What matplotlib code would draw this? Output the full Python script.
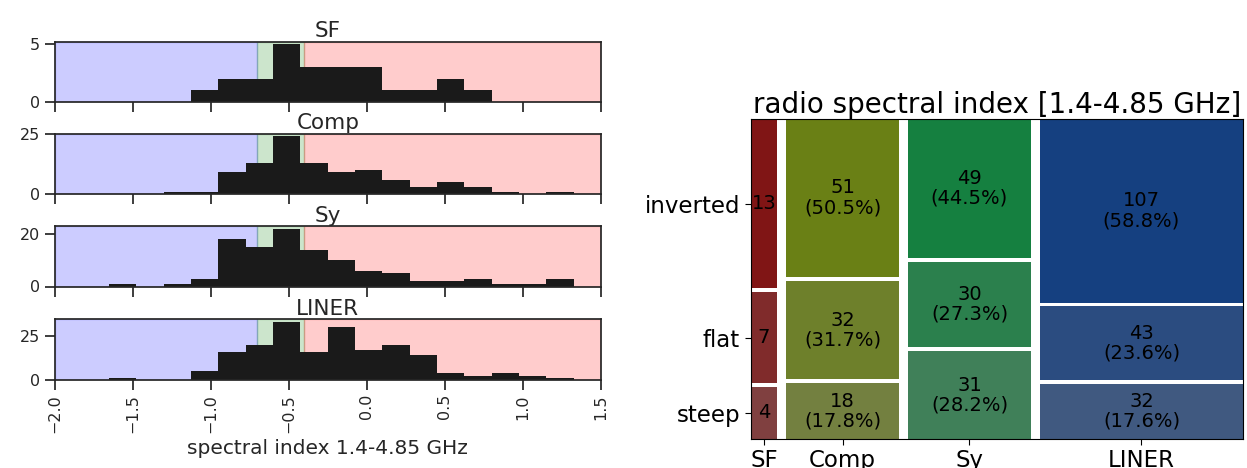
import numpy as np
import matplotlib
matplotlib.use("Agg")
import matplotlib.pyplot as plt
from matplotlib.colors import hsv_to_rgb
from matplotlib.patches import Rectangle

# histogram bins of the spectral index (1.4-4.85 GHz)
bin_edges = np.linspace(-2.0, 1.5, 21)
hist_names = ["SF", "Comp", "Sy", "LINER"]
sf_counts = [0, 0, 0, 0, 0, 1, 2, 2, 5, 3, 3, 3, 1, 1, 2, 1, 0, 0, 0, 0]
comp_counts = [0, 0, 0, 0, 1, 1, 9, 13, 24, 13, 9, 10, 6, 3, 5, 3, 1, 0, 1, 0]
sy_counts = [0, 0, 1, 0, 1, 3, 18, 15, 22, 14, 10, 6, 5, 2, 2, 3, 1, 1, 3, 0]
liner_counts = [0, 0, 1, 0, 0, 5, 16, 20, 33, 16, 30, 17, 20, 14, 4, 2, 4, 2, 1, 0]
hist_yticks = [[0, 5], [0, 25], [0, 20], [0, 25]]
hist_xticks = [-2.0, -1.5, -1.0, -0.5, 0.0, 0.5, 1.0, 1.5]

# spectral classes: steep < -0.7 < flat < -0.4 < inverted
steep_limit = -0.7
flat_limit = -0.4

# mosaic counts (rows: steep, flat, inverted)
mosaic_classes = ["SF", "Comp", "Sy", "LINER"]
mosaic_rows = ["steep", "flat", "inverted"]
sf_mosaic = [4, 7, 13]
comp_mosaic = [18, 32, 51]
sy_mosaic = [31, 30, 49]
liner_mosaic = [32, 43, 107]

TXT = "#262626"
plt.rcParams["font.family"] = ["DejaVu Sans"]

fig = plt.figure(figsize=(12.47, 4.68), dpi=100)

# ---- left: histograms ----
all_counts = [sf_counts, comp_counts, sy_counts, liner_counts]
left, width = 54.5 / 1247, 546.5 / 1247
h_ax = 60.5 / 468
tops = [41.5, 133.5, 226, 319]
for i, (name, counts) in enumerate(zip(hist_names, all_counts)):
    ax = fig.add_axes([left, 1 - tops[i] / 468 - h_ax, width, h_ax])
    ax.axvspan(-2.0, steep_limit, color="b", alpha=0.2, lw=1)
    ax.axvspan(steep_limit, flat_limit, color="g", alpha=0.2, lw=1)
    ax.axvspan(flat_limit, 1.5, color="r", alpha=0.2, lw=1)
    ax.bar(bin_edges[:-1], counts, width=np.diff(bin_edges), align="edge",
           color="0.1", linewidth=0)
    ax.set_xlim(-2.0, 1.5)
    ax.set_yticks(hist_yticks[i])
    ax.set_xticks(hist_xticks)
    ax.set_title(name, fontsize=15.5, color=TXT, pad=3)
    ax.tick_params(direction="out", length=7, width=1.25, colors=TXT,
                   labelsize=11.5)
    for s in ax.spines.values():
        s.set_color(TXT)
        s.set_linewidth(1.25)
    if i < 3:
        ax.tick_params(labelbottom=False)
    else:
        ax.tick_params(axis="x", labelrotation=90)
        ax.set_xlabel("spectral index 1.4-4.85 GHz", fontsize=14.5, color=TXT)

# ---- right: mosaic ----
mx = fig.add_axes([750.5 / 1247, 1 - 439 / 468, 492.5 / 1247, 320 / 468])
mosaic = [sf_mosaic, comp_mosaic, sy_mosaic, liner_mosaic]
totals = np.array([sum(m) for m in mosaic], dtype=float)
gx, gy = 0.0184, 0.012
hues = np.linspace(0.0, 1.0, len(mosaic_classes) + 2)[:-2]
sats = np.linspace(0.5, 1.0, len(mosaic_rows) + 1)[:-1]

col_w = (1 - gx * (len(mosaic) - 1)) * totals / totals.sum()
x0 = 0.0
xcenters = []
ycenters = []
for ci, col in enumerate(mosaic):
    col = np.array(col, dtype=float)
    row_h = (1 - gy * (len(col) - 1)) * col / col.sum()
    y0 = 0.0
    for ri, c in enumerate(col):
        color = hsv_to_rgb((hues[ci], sats[ri], 0.5))
        mx.add_patch(Rectangle((x0, y0), col_w[ci], row_h[ri], color=color, lw=0))
        cx, cy = x0 + col_w[ci] / 2, y0 + row_h[ri] / 2
        if ci == 0:
            lab = "%d" % c
            ycenters.append(cy)
        else:
            lab = "%d\n(%.1f%%)" % (c, 100 * c / col.sum())
        mx.text(cx, cy, lab, ha="center", va="center", fontsize=14,
                linespacing=1.05)
        y0 += row_h[ri] + gy
    xcenters.append(x0 + col_w[ci] / 2)
    x0 += col_w[ci] + gx

mx.set_xlim(0, 1)
mx.set_ylim(0, 1)
mx.set_xticks(xcenters)
mx.set_xticklabels(mosaic_classes)
mx.set_yticks(ycenters)
mx.set_yticklabels(mosaic_rows)
mx.tick_params(labelsize=16.5, length=4)
mx.set_title("radio spectral index [1.4-4.85 GHz]", fontsize=20, pad=3)

fig.savefig("out.png", dpi=100)
